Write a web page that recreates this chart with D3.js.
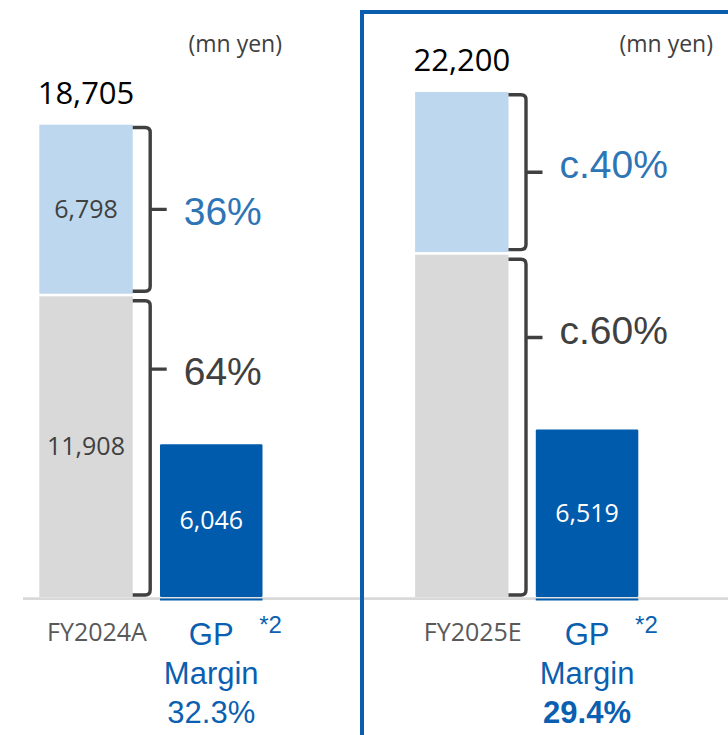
<!DOCTYPE html>
<html>
<head>
<meta charset="utf-8">
<script src="https://cdn.jsdelivr.net/npm/d3@7"></script>
<style>
  html, body { margin: 0; padding: 0; background: #fff; overflow: hidden; }
</style>
</head>
<body>
<svg id="chart" width="728" height="735"></svg>
<script>
// Sales composition and gross profit, FY2024 actual vs FY2025 estimate (mn yen)
const periods = ["FY2024A", "FY2025E"];
const totals = [18705, 22200];
const lowerValues = [11908, 13320];
const upperValues = [6798, 8880];
const grossProfit = [6046, 6519];
const upperShare = ["36%", "c.40%"];
const lowerShare = ["64%", "c.60%"];
const gpMargin = ["32.3%", "29.4%"];
const axisMax = [20000, 19650];
const showSegmentValues = [true, false];
const marginBold = [false, true];

const svg = d3.select("#chart");
const baseY = 597;
const plotTop = 92;
const panelX = [0, 375.8];
const unitRight = [282, 713];
const pctShift = [2, -8];

const stackX = 39.3, stackW = 93.4;
const gpX = 160, gpW = 102.5;
const segGap = 2.6;

const C = {
  gray: "#d9d9d9",
  light: "#bdd7ee",
  gp: "#005bac",
  dark: "#404040",
  blueText: "#2e75b6",
  gpText: "#0b5fb0",
  axis: "#d9d9d9",
  frame: "#0b5dae"
};
const meiryo = "'Open Sans', 'Noto Sans', sans-serif";
const arial = "'Liberation Sans', Arial, sans-serif";

// category baseline
svg.append("line")
  .attr("x1", 23).attr("x2", 728)
  .attr("y1", baseY + 1.6).attr("y2", baseY + 1.6)
  .attr("stroke", C.axis).attr("stroke-width", 2.6);

function bracePath(x0, yTop, yBot, yTip) {
  const xv = x0 + 17.5, r = 5, xt = x0 + 34;
  return `M${x0},${yTop} L${xv - r},${yTop} Q${xv},${yTop} ${xv},${yTop + r}` +
         ` L${xv},${yBot - r} Q${xv},${yBot} ${xv - r},${yBot} L${x0},${yBot}` +
         ` M${xv},${yTip} L${xt},${yTip}`;
}

periods.forEach((period, i) => {
  const g = svg.append("g").attr("transform", `translate(${panelX[i]},0)`);
  const y = d3.scaleLinear().domain([0, axisMax[i]]).range([baseY, plotTop]).clamp(true);

  const yLower = y(lowerValues[i]);
  const yTotal = y(lowerValues[i] + upperValues[i]);
  const yGP = y(grossProfit[i]);
  const stackRight = stackX + stackW;
  const stackCx = stackX + stackW / 2;
  const gpCx = gpX + gpW / 2;

  // stacked sales bar
  g.append("rect")
    .attr("x", stackX).attr("y", yLower)
    .attr("width", stackW).attr("height", baseY - yLower)
    .attr("fill", C.gray);
  g.append("rect")
    .attr("x", stackX).attr("y", yTotal)
    .attr("width", stackW).attr("height", yLower - segGap - yTotal)
    .attr("fill", C.light);

  // gross profit bar
  g.append("rect")
    .attr("x", gpX).attr("y", yGP)
    .attr("width", gpW).attr("height", baseY - yGP)
    .attr("rx", 1.2)
    .attr("fill", C.gp);
  g.append("line")
    .attr("x1", gpX).attr("x2", gpX + gpW)
    .attr("y1", baseY + 2.5).attr("y2", baseY + 2.5)
    .attr("stroke", C.gp).attr("stroke-width", 2.2);

  // braces
  const uTop = yTotal + 2.8, uBot = yLower - segGap - 2.5;
  const uTip = (uTop + uBot) / 2;
  const lTop = yLower + 4.5, lBot = baseY - 2;
  const lTip = yLower + 0.242 * (baseY - yLower);
  [[uTop, uBot, uTip], [lTop, lBot, lTip]].forEach(([a, b, t]) => {
    g.append("path")
      .attr("d", bracePath(stackRight, a, b, t))
      .attr("fill", "none")
      .attr("stroke", C.dark)
      .attr("stroke-width", 3.4);
  });

  // share labels
  g.append("text")
    .attr("x", stackRight + 51).attr("y", uTip + 14 + pctShift[i])
    .attr("font-family", arial).attr("font-size", 39)
    .attr("fill", C.blueText)
    .text(upperShare[i]);
  g.append("text")
    .attr("x", stackRight + 51).attr("y", lTip + 14 + pctShift[i])
    .attr("font-family", arial).attr("font-size", 39)
    .attr("fill", C.dark)
    .text(lowerShare[i]);

  // total above the stack
  g.append("text")
    .attr("x", stackCx).attr("y", yTotal - 21)
    .attr("text-anchor", "middle")
    .attr("font-family", meiryo).attr("font-size", 31)
    .attr("fill", "#000")
    .text(d3.format(",")(totals[i]));

  // segment values
  if (showSegmentValues[i]) {
    g.append("text")
      .attr("x", stackCx).attr("y", (yTotal + yLower - segGap) / 2)
      .attr("dy", "0.35em")
      .attr("text-anchor", "middle")
      .attr("font-family", meiryo).attr("font-size", 25)
      .attr("fill", C.dark)
      .text(d3.format(",")(upperValues[i]));
    g.append("text")
      .attr("x", stackCx).attr("y", (yLower + baseY) / 2)
      .attr("dy", "0.35em")
      .attr("text-anchor", "middle")
      .attr("font-family", meiryo).attr("font-size", 25)
      .attr("fill", C.dark)
      .text(d3.format(",")(lowerValues[i]));
  }

  g.append("text")
    .attr("x", gpCx).attr("y", (yGP + baseY) / 2)
    .attr("dy", "0.35em")
    .attr("text-anchor", "middle")
    .attr("font-family", meiryo).attr("font-size", 25)
    .attr("fill", "#fff")
    .text(d3.format(",")(grossProfit[i]));

  // period label
  g.append("text")
    .attr("x", stackCx + 11).attr("y", 641)
    .attr("text-anchor", "middle")
    .attr("font-family", meiryo).attr("font-size", 25)
    .attr("fill", "#595959")
    .text(period);

  // GP margin block
  const gpBlock = [["GP", 645, false], ["Margin", 683.5, false], [gpMargin[i], 722.5, marginBold[i]]];
  gpBlock.forEach(([t, yy, bold]) => {
    g.append("text")
      .attr("x", gpCx).attr("y", yy)
      .attr("text-anchor", "middle")
      .attr("font-family", arial).attr("font-size", 31)
      .attr("font-weight", bold ? "bold" : "normal")
      .attr("fill", C.gpText)
      .text(t);
  });
  g.append("text")
    .attr("x", gpCx + 48).attr("y", 633)
    .attr("font-family", arial).attr("font-size", 24)
    .attr("fill", C.gpText)
    .text("*2");
});

// unit notes
unitRight.forEach(x => {
  svg.append("text")
    .attr("x", x).attr("y", 52)
    .attr("text-anchor", "end")
    .attr("font-family", meiryo).attr("font-size", 23)
    .attr("fill", C.dark)
    .text("(mn yen)");
});

// frame around the estimate
svg.append("rect")
  .attr("x", 362).attr("y", 12)
  .attr("width", 420).attr("height", 800)
  .attr("fill", "none")
  .attr("stroke", C.frame)
  .attr("stroke-width", 4);
</script>
</body>
</html>
